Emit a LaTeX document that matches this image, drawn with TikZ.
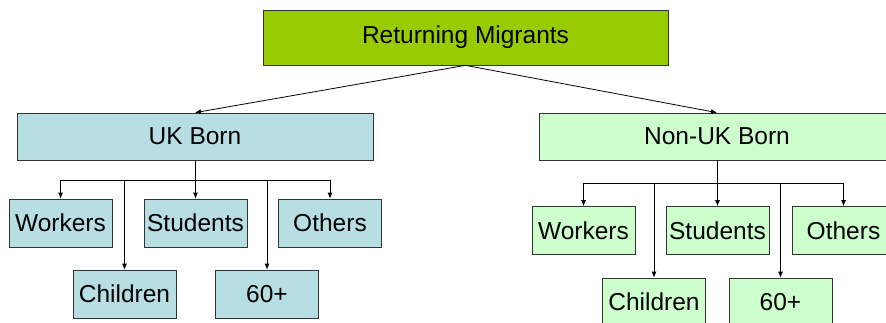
\documentclass[tikz,border=0pt]{standalone}
\usepackage{fontspec}
\setmainfont{Liberation Sans}
\usetikzlibrary{arrows.meta}

\definecolor{topgreen}{HTML}{99CC00}
\definecolor{ukblue}{HTML}{B7DEE3}
\definecolor{nongreen}{HTML}{CCFFCC}

\tikzset{
  box/.style={draw=black!80, line width=0.7pt, inner sep=0pt,
    font=\fontsize{24.5}{29}\selectfont},
  small/.style={box, minimum width=103pt, minimum height=48pt},
  wide/.style={box, minimum width=356pt, minimum height=47pt},
  arr/.style={-{Latex[length=6pt,width=5pt]}, line width=0.8pt}
}

\begin{document}
\begin{tikzpicture}[x=1pt,y=-1pt]
        \useasboundingbox (0,0) rectangle (886,323);
        \clip (0,0) rectangle (886,323);

        % Caja principal
        \node[box, fill=topgreen, minimum width=405pt, minimum height=55pt] (top) at (465.5,37.5) {Returning Migrants};

        % Dos grupos
        \node[wide, fill=ukblue] (uk) at (195,136.5) {UK Born};
        \node[wide, fill=nongreen] (non) at (717,136.5) {Non-UK Born};

        \draw[arr] (top.south) -- (uk.north);
        \draw[arr] (top.south) -- (non.north);

        % Subgrupos UK Born
        \node[small, fill=ukblue] (ukw) at (60.5,223) {Workers};
        \node[small, fill=ukblue] (uks) at (195.5,223) {Students};
        \node[small, fill=ukblue] (uko) at (330,223) {Others};
        \node[small, fill=ukblue] (ukc) at (124.5,294) {Children};
        \node[small, fill=ukblue] (ukold) at (267,294) {60+};

        % Subgrupos Non-UK Born
        \node[small, fill=nongreen] (nonw) at (583.5,230.5) {Workers};
        \node[small, fill=nongreen] (nons) at (717.5,230.5) {Students};
        \node[small, fill=nongreen] (nono) at (843.5,230.5) {Others};
        \node[small, fill=nongreen] (nonc) at (654,302) {Children};
        \node[small, fill=nongreen] (nonold) at (780.5,302) {60+};

        % Barras de conexion
        \coordinate (ukbus) at (195,180);
        \coordinate (nonbus) at (717,183);
        \foreach \c in {ukw,uks,uko,ukc,ukold}
          \draw[arr] (uk.south) -- (uk.south |- ukbus) -| (\c.north);
        \foreach \c in {nonw,nons,nono,nonc,nonold}
          \draw[arr] (non.south) -- (non.south |- nonbus) -| (\c.north);
\end{tikzpicture}
\end{document}
